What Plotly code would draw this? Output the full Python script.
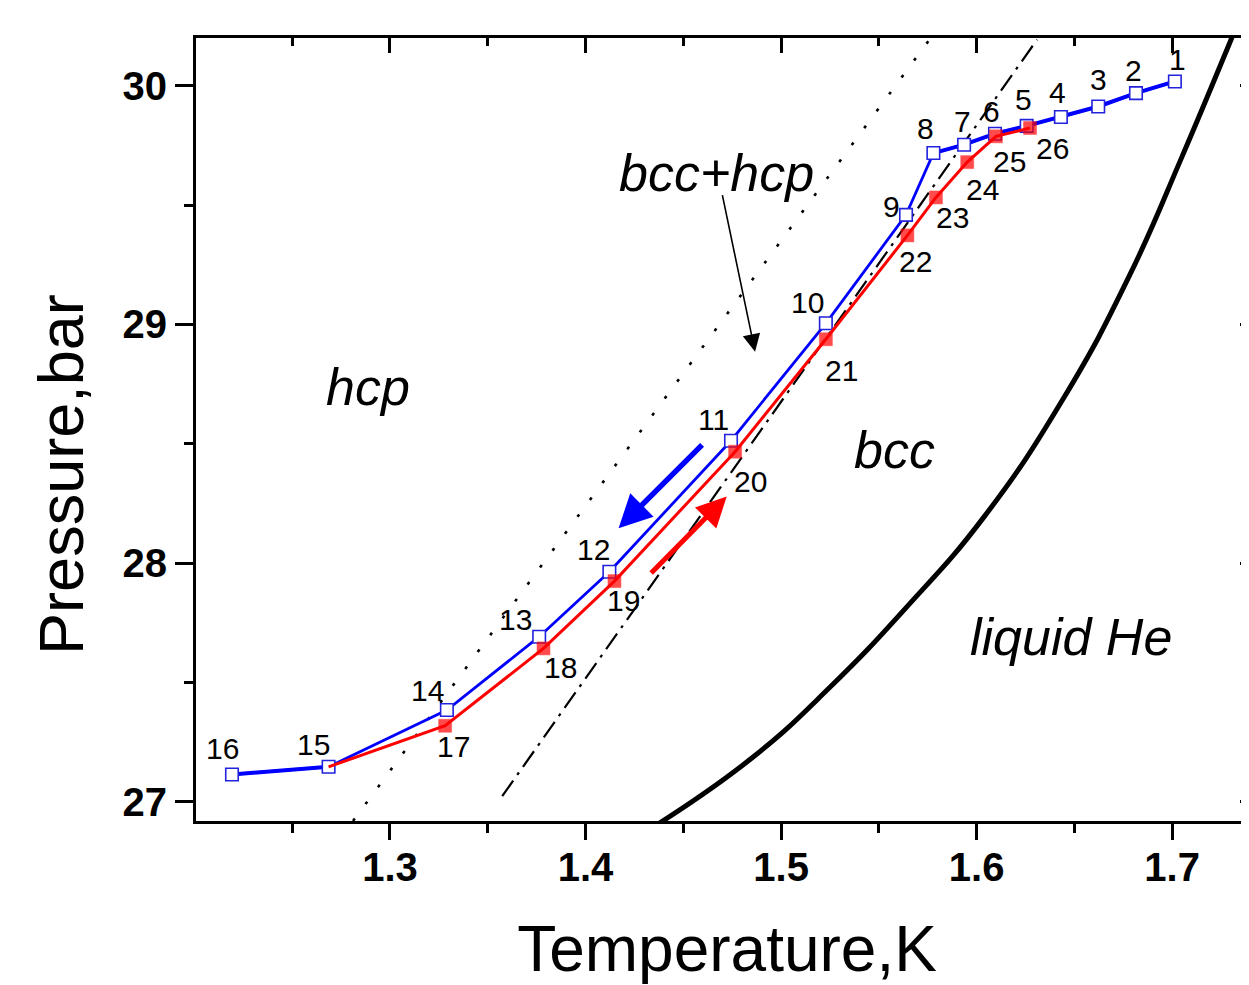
import plotly.graph_objects as go

# ---------------- data ----------------
# Run 1 (open blue squares), points 1..16
blue_id = list(range(1, 17))
blue_T = [1.7014, 1.6815, 1.6622, 1.6431, 1.6256, 1.6094, 1.5936, 1.5779,
          1.5639, 1.5229, 1.4744, 1.4122, 1.3763, 1.3291, 1.2686, 1.2192]
blue_P = [30.018, 29.969, 29.913, 29.869, 29.832, 29.799, 29.753, 29.718,
          29.459, 29.005, 28.513, 27.964, 27.692, 27.385, 27.147, 27.115]

# Run 2 (filled red squares), points 17..26 (path starts from point 15)
red_id = list(range(17, 27))
red_T = [1.3282, 1.3785, 1.4148, 1.4765, 1.5229, 1.5646, 1.5792, 1.5952, 1.6099, 1.6273]
red_P = [27.319, 27.643, 27.925, 28.467, 28.938, 29.373, 29.532, 29.680, 29.788, 29.823]

# phase boundaries
hcp_T = [1.2811, 1.5765]          # dotted hcp / bcc+hcp boundary
hcp_P = [26.92, 30.20]
bcc_T = [1.3574, 1.6309]          # dash-dot bcc+hcp / bcc boundary
bcc_P = [27.024, 30.193]
melt_T = [1.4378, 1.4857, 1.5251, 1.5642, 1.6038, 1.6449, 1.6779, 1.7050, 1.7301, 1.7328]
melt_P = [26.911, 27.188, 27.481, 27.816, 28.194, 28.697, 29.200, 29.702, 30.193, 30.247]

x_ticks = [1.3, 1.4, 1.5, 1.6, 1.7]
y_ticks = [27, 28, 29, 30]

# label pixel offsets (dx right, dy down) for the point numbers
blue_off = {1: (3, -22), 2: (-2, -23), 3: (0, -27), 4: (-3, -25), 5: (-3, -26),
            6: (-3, -22), 7: (-2, -23), 8: (-8, -25), 9: (-15, -8), 10: (-18, -21),
            11: (-18, -21), 12: (-16, -22), 13: (-24, -17), 14: (-19, -20),
            15: (-15, -22), 16: (-9, -26)}
red_off = {17: (8, 21), 18: (17, 19), 19: (9, 19), 20: (15, 30), 21: (16, 31),
           22: (8, 26), 23: (17, 20), 24: (15, 27), 25: (14, 25), 26: (22, 20)}

FONT = "Arial, 'Liberation Sans', sans-serif"
BLUE = "#0000FF"
RED = "#FF0000"

fig = go.Figure()

fig.add_trace(go.Scatter(x=hcp_T, y=hcp_P, mode="lines",
                         line=dict(color="black", width=2.6, dash="3px,18px"),
                         hoverinfo="skip", showlegend=False))
fig.add_trace(go.Scatter(x=bcc_T, y=bcc_P, mode="lines",
                         line=dict(color="black", width=2.2, dash="19px,7px,3px,7px"),
                         hoverinfo="skip", showlegend=False))
fig.add_trace(go.Scatter(x=melt_T, y=melt_P, mode="lines",
                         line=dict(color="black", width=5, shape="spline", smoothing=1.3),
                         hoverinfo="skip", showlegend=False))

# blue run: thicker segments at the warm end (1-8) and cold end (15-16)
fig.add_trace(go.Scatter(x=blue_T[:8], y=blue_P[:8], mode="lines",
                         line=dict(color=BLUE, width=4), hoverinfo="skip",
                         showlegend=False))
fig.add_trace(go.Scatter(x=blue_T[14:], y=blue_P[14:], mode="lines",
                         line=dict(color=BLUE, width=4), hoverinfo="skip",
                         showlegend=False))
fig.add_trace(go.Scatter(x=blue_T, y=blue_P, mode="lines+markers",
                         line=dict(color=BLUE, width=2.8),
                         marker=dict(symbol="square", size=12.5, color="white",
                                     line=dict(width=1.6, color="#2222DD")),
                         showlegend=False))

red_path_T = [blue_T[14]] + red_T
red_path_P = [blue_P[14]] + red_P
fig.add_trace(go.Scatter(x=red_path_T, y=red_path_P, mode="lines+markers",
                         line=dict(color=RED, width=3),
                         marker=dict(symbol="square", size=[0] + [13] * len(red_T),
                                     color=RED, line=dict(width=0.5, color=RED)),
                         showlegend=False))

ann = []
for i, t, p in zip(blue_id, blue_T, blue_P):
    dx, dy = blue_off[i]
    ann.append(dict(x=t, y=p, text=str(i), showarrow=False, xshift=dx, yshift=-dy,
                    font=dict(size=30, color="black", family=FONT)))
for i, t, p in zip(red_id, red_T, red_P):
    dx, dy = red_off[i]
    ann.append(dict(x=t, y=p, text=str(i), showarrow=False, xshift=dx, yshift=-dy,
                    font=dict(size=30, color="black", family=FONT)))

for txt, t, p in [("hcp", 1.2889, 28.738), ("bcc+hcp", 1.4668, 29.635),
                  ("bcc", 1.5578, 28.474), ("liquid He", 1.6483, 27.691)]:
    ann.append(dict(x=t, y=p, text="<i>%s</i>" % txt, showarrow=False,
                    xanchor="center", yanchor="middle",
                    font=dict(size=52, color="black", family=FONT)))

# arrows
ann.append(dict(x=1.4867, y=28.886, ax=-33, ay=-158, axref="pixel", ayref="pixel",
                text="", showarrow=True, arrowhead=2, arrowsize=2.2, arrowwidth=1.6,
                arrowcolor="black"))
ann.append(dict(x=1.4169, y=28.146, ax=85, ay=-85, text="", showarrow=True,
                arrowhead=2, arrowsize=1.2, arrowwidth=5.5, arrowcolor=BLUE))
ann.append(dict(x=1.4722, y=28.279, ax=-77, ay=78, text="", showarrow=True,
                arrowhead=2, arrowsize=1.2, arrowwidth=5, arrowcolor=RED))

# y-axis title (placed lower than the axis centre, as in the original)
ann.append(dict(xref="paper", yref="paper", x=-0.1277, y=0.4425, text="Pressure,bar",
                textangle=-90, showarrow=False, xanchor="center", yanchor="middle",
                font=dict(size=63, color="black", family=FONT)))

axis_common = dict(showline=True, linecolor="black", linewidth=2.8,
                   showgrid=False, zeroline=False, tickcolor="black", tickwidth=2.5)

# page body has an 8px margin: compensate so the frame lands where the original has it
fig.update_layout(
    width=1254, height=977,
    margin=dict(l=188, r=4, t=30, b=164),
    paper_bgcolor="white", plot_bgcolor="white",
    font=dict(family=FONT, color="black"),
    annotations=ann,
    xaxis=dict(range=[1.2008, 1.7439], tickvals=x_ticks,
               ticktext=["<b>%g</b>" % v for v in x_ticks],
               ticks="outside", ticklen=16, ticklabelstandoff=-7,
               minor=dict(dtick=0.05, tick0=1.2, ticks="outside", ticklen=9,
                          tickwidth=2.5, tickcolor="black"),
               tickfont=dict(size=40, family=FONT),
               title=dict(text="Temperature,K", font=dict(size=64, family=FONT), standoff=42),
               **axis_common),
    yaxis=dict(range=[26.920, 30.200], tickvals=y_ticks,
               ticktext=["<b>%g</b>" % v for v in y_ticks],
               ticks="outside", ticklen=18,
               minor=dict(dtick=0.5, tick0=27, ticks="outside", ticklen=9,
                          tickwidth=2.5, tickcolor="black"),
               tickfont=dict(size=40, family=FONT),
               **axis_common),
    xaxis2=dict(matches="x", overlaying="x", side="top", anchor="y",
                range=[1.2008, 1.7439], tickvals=x_ticks, showticklabels=False,
                ticks="inside", ticklen=15,
                minor=dict(dtick=0.05, tick0=1.2, ticks="inside", ticklen=8,
                           tickwidth=2.5, tickcolor="black"),
                **axis_common),
    yaxis2=dict(matches="y", overlaying="y", side="right", anchor="x",
                range=[26.920, 30.200], tickvals=y_ticks, showticklabels=False,
                ticks="inside", ticklen=18,
                minor=dict(dtick=0.5, tick0=27, ticks="inside", ticklen=9,
                           tickwidth=2.5, tickcolor="black"),
                **axis_common),
)
# invisible trace to activate the mirror axes
fig.add_trace(go.Scatter(x=[blue_T[0]], y=[blue_P[0]], xaxis="x2", yaxis="y2",
                         mode="markers", marker=dict(opacity=0), hoverinfo="skip",
                         showlegend=False))

fig.write_html("out.html")
